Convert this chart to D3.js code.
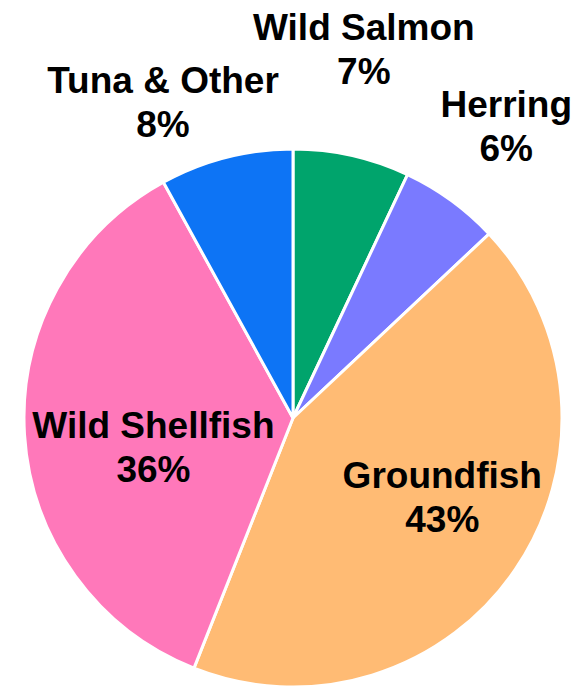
<!DOCTYPE html>
<html>
<head>
<meta charset="utf-8">
<script src="https://cdn.jsdelivr.net/npm/d3@7"></script>
<style>
  html, body { margin: 0; padding: 0; background: #ffffff; }
  svg { display: block; }
  text { font-family: "Liberation Sans", Arial, sans-serif; font-weight: bold; fill: #000; }
</style>
</head>
<body>
<svg id="chart" width="584" height="691"></svg>
<script>
// Catch by category, share of total (%)
const categories = ["Wild Salmon", "Herring", "Groundfish", "Wild Shellfish", "Tuna & Other"];
const shares = [7, 6, 43, 36, 8];
const percentLabels = ["7%", "6%", "43%", "36%", "8%"];
const colors = ["#00A46C", "#7A7AFF", "#FFBB74", "#FF78BA", "#0D74F5"];

// Label placement around the pie: distance from centre and angular nudge (degrees)
const labelRadius = [385, 369, 165, 141, 350];
const labelNudge = [-2, -0.7, -9, -4.5, -7.4];

const width = 584, height = 691;
const cx = 293, cy = 418, radius = 269;
const fontSize = 37, lineGap = 44;

const svg = d3.select("#chart");
const g = svg.append("g").attr("transform", `translate(${cx},${cy})`);

const pie = d3.pie().sort(null).value(d => d.value);
const arc = d3.arc().innerRadius(0).outerRadius(radius);

const data = categories.map((c, i) => ({ name: c, value: shares[i], pct: percentLabels[i], color: colors[i], i }));
const arcs = pie(data);

g.selectAll("path.slice")
  .data(arcs)
  .join("path")
  .attr("class", "slice")
  .attr("d", arc)
  .attr("fill", d => d.data.color)
  .attr("stroke", "#ffffff")
  .attr("stroke-width", 3)
  .attr("stroke-linejoin", "round");

const labels = g.selectAll("g.label")
  .data(arcs)
  .join("g")
  .attr("class", "label")
  .attr("transform", d => {
    const i = d.data.i;
    const a = (d.startAngle + d.endAngle) / 2 + labelNudge[i] * Math.PI / 180;
    const r = labelRadius[i];
    return `translate(${r * Math.sin(a)},${-r * Math.cos(a)})`;
  });

labels.append("text")
  .attr("text-anchor", "middle")
  .attr("font-size", fontSize)
  .attr("y", 0)
  .text(d => d.data.name);

labels.append("text")
  .attr("text-anchor", "middle")
  .attr("font-size", fontSize)
  .attr("y", lineGap)
  .text(d => d.data.pct);
</script>
</body>
</html>
